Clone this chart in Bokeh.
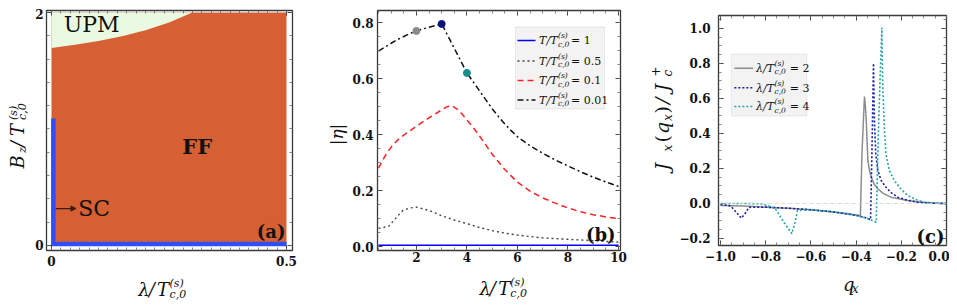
import math
from bokeh.plotting import figure
from bokeh.models import (Label, Arrow, NormalHead, FixedTicker, LinearAxis,
                          Span, Range1d, BoxAnnotation, Spacer)
from bokeh.layouts import row, column
from bokeh.embed import file_html
from bokeh.resources import INLINE

# ======================= DATA =======================
# ---- panel (a): phase diagram, lambda/Tc0 vs Bz/Tc0 ----
a_lambda_limits = [0.0, 0.5]
a_bz_limits = [0.0, 2.0]
upm_boundary_lambda = [0.0, 0.05, 0.10, 0.15, 0.20, 0.25, 0.30]
upm_boundary_bz = [1.696, 1.723, 1.755, 1.795, 1.848, 1.915, 2.0]
sc_vertical_lambda = [0.004, 0.004]
sc_vertical_bz = [0.0, 1.09]
sc_horizontal_lambda = [0.0, 0.5]
sc_horizontal_bz = [0.012, 0.012]
sc_arrow_lambda = [0.009, 0.052]
sc_arrow_bz = [0.317, 0.317]
region_names = ["UPM", "FF", "SC"]
region_lambda = [0.026, 0.31, 0.057]
region_bz = [1.893, 0.851, 0.317]
a_xtick_values = [0, 0.5]
a_xtick_labels = ["0", "0.5"]
a_ytick_values = [0, 2]
a_ytick_labels = ["0", "2"]

# ---- panel (b): |eta| vs lambda/Tc0 ----
lam_T1 = [0.5, 10.0]
eta_T1 = [0.005, 0.005]
lam_T05 = [0.5, 0.9, 1.2, 1.45, 1.7, 2.0, 2.5, 3.0, 3.5, 4.0, 4.5, 5.0, 5.5,
           6.0, 7.0, 8.0, 9.0, 10.0]
eta_T05 = [0.065, 0.072, 0.103, 0.128, 0.137, 0.141, 0.129, 0.110, 0.095,
           0.082, 0.068, 0.057, 0.048, 0.041, 0.031, 0.026, 0.021, 0.016]
lam_T01 = [0.5, 0.75, 1.0, 1.25, 1.5, 1.75, 2.0, 2.25, 2.5, 2.75, 3.0, 3.2,
           3.4, 3.6, 3.8, 4.0, 4.25, 4.5, 5.0, 5.5, 6.0, 6.5, 7.0, 7.5, 8.0,
           8.5, 9.0, 9.5, 10.0]
eta_T01 = [0.280, 0.322, 0.355, 0.380, 0.398, 0.414, 0.430, 0.445, 0.460,
           0.474, 0.488, 0.499, 0.503, 0.492, 0.474, 0.452, 0.425, 0.395,
           0.330, 0.275, 0.230, 0.198, 0.174, 0.155, 0.138, 0.124, 0.114,
           0.106, 0.100]
lam_T001 = [0.5, 0.75, 1.0, 1.25, 1.5, 1.75, 2.0, 2.25, 2.5, 2.75, 3.0, 3.25,
            3.5, 3.75, 4.0, 4.25, 4.5, 4.75, 5.0, 5.25, 5.5, 5.75, 6.0, 6.5,
            7.0, 7.5, 8.0, 8.5, 9.0, 9.5, 10.0]
eta_T001 = [0.698, 0.712, 0.726, 0.739, 0.750, 0.761, 0.770, 0.777, 0.783,
            0.789, 0.795, 0.752, 0.708, 0.664, 0.620, 0.588, 0.556, 0.524,
            0.492, 0.464, 0.438, 0.414, 0.392, 0.360, 0.333, 0.309, 0.288,
            0.267, 0.248, 0.231, 0.215]
marker_lam = [2.0, 3.0, 4.0]
marker_eta = [0.770, 0.795, 0.620]
b_legend_values = ["1", "0.5", "0.1", "0.01"]
b_xtick_values = [2, 4, 6, 8, 10]
b_xtick_labels = ["2", "4", "6", "8", "10"]
b_ytick_values = [0.0, 0.2, 0.4, 0.6, 0.8]
b_ytick_labels = ["0.0", "0.2", "0.4", "0.6", "0.8"]

# ---- panel (c): Jx(qx)/Jc+ vs qx ----
qx_l2 = [-1.0, -0.9, -0.8, -0.7, -0.6, -0.5, -0.45, -0.4, -0.381, -0.374,
         -0.363, -0.359, -0.355, -0.348, -0.34, -0.333, -0.32, -0.304, -0.28,
         -0.246, -0.2, -0.172, -0.13, -0.1, -0.05, 0.0]
j_l2 = [-0.011, -0.015, -0.021, -0.027, -0.036, -0.048, -0.056, -0.066,
        -0.070, 0.284, 0.611, 0.560, 0.474, 0.246, 0.185, 0.150, 0.110, 0.084,
        0.058, 0.036, 0.024, 0.017, 0.010, 0.006, 0.002, 0.0]
qx_l3 = [-1.0, -0.97, -0.955, -0.93, -0.908, -0.89, -0.874, -0.8, -0.7, -0.6,
         -0.5, -0.4, -0.36, -0.336, -0.330, -0.323, -0.319, -0.313, -0.304,
         -0.289, -0.268, -0.245, -0.216, -0.17, -0.129, -0.08, -0.04, 0.0]
j_l3 = [-0.006, -0.010, -0.014, -0.050, -0.084, -0.055, -0.022, -0.021,
        -0.027, -0.036, -0.048, -0.068, -0.080, -0.093, 0.284, 0.800, 0.474,
        0.284, 0.189, 0.131, 0.093, 0.062, 0.036, 0.018, 0.008, 0.003, 0.001,
        0.0]
qx_l4 = [-1.0, -0.9, -0.82, -0.79, -0.757, -0.72, -0.684, -0.67, -0.659, -0.6,
         -0.5, -0.4, -0.35, -0.311, -0.30, -0.286, -0.282, -0.275, -0.268,
         -0.253, -0.231, -0.2, -0.172, -0.13, -0.1, -0.05, 0.0]
j_l4 = [0.0, 0.0, -0.002, -0.012, -0.030, -0.107, -0.173, -0.107, -0.040,
        -0.036, -0.048, -0.068, -0.085, -0.107, 0.474, 1.004, 0.665, 0.436,
        0.284, 0.189, 0.131, 0.080, 0.046, 0.020, 0.008, 0.002, 0.0]
c_legend_values = ["2", "3", "4"]
c_xtick_values = [-1.0, -0.8, -0.6, -0.4, -0.2, 0.0]
c_xtick_labels = ["\u22121.0", "\u22120.8", "\u22120.6", "\u22120.4", "\u22120.2", "0.0"]
c_ytick_values = [-0.2, 0.0, 0.2, 0.4, 0.6, 0.8, 1.0]
c_ytick_labels = ["\u22120.2", "0.0", "0.2", "0.4", "0.6", "0.8", "1.0"]

# ======================= STYLE / LAYOUT =======================
SERIF = "DejaVu Serif"
TXT = "#111111"
ORANGE = "#d65f33"
PALE_GREEN = "#eafae2"
SC_BLUE = "#2f4ff2"
FRAME = "#3a3a3a"
ANG = math.pi / 2
TOP = 8          # page y of content top (reference pixel coords)
BOTTOM = 300     # page y of content bottom
MID = 0.30       # baseline -> middle shift, in em

GEOM_A = dict(l=46, r=292, t=10, b=250, xr=(-0.0106, 0.5128), yr=(-0.043, 2.017))
GEOM_B = dict(l=377, r=620, t=10, b=250, xr=(0.46, 10.08), yr=(-0.014, 0.843))
GEOM_C = dict(l=716, r=946, t=15, b=245, xr=(-1.0088, 0.0), yr=(-0.24, 1.074))


def mapper(g):
    def fx(px):
        return g["xr"][0] + (px - g["l"]) / (g["r"] - g["l"]) * (g["xr"][1] - g["xr"][0])

    def fy(py):
        return g["yr"][1] - (py - g["t"]) / (g["b"] - g["t"]) * (g["yr"][1] - g["yr"][0])
    return fx, fy


def canvas(left, right, top, bottom):
    """blank figure used as a text canvas; data units == pixels."""
    w, h = right - left, bottom - top
    p = figure(width=w, height=h, x_range=Range1d(0, w), y_range=Range1d(0, h),
               output_backend="svg", toolbar_location=None,
               x_axis_type=None, y_axis_type=None,
               min_border_left=0, min_border_right=0,
               min_border_top=0, min_border_bottom=0)
    p.grid.visible = False
    p.outline_line_color = None
    p.background_fill_color = "white"
    p.border_fill_color = "white"

    def fx(px):
        return px - left

    def fy(py):
        return bottom - py
    return p, (fx, fy)


def make_panel(g, fig_left, fig_right, split):
    p = figure(width=fig_right - fig_left, height=split - TOP,
               x_range=Range1d(*g["xr"]), y_range=Range1d(*g["yr"]),
               output_backend="svg", toolbar_location=None,
               min_border_left=g["l"] - fig_left,
               min_border_right=fig_right - g["r"],
               min_border_top=g["t"] - TOP,
               min_border_bottom=split - g["b"])
    p.xgrid.visible = False
    p.ygrid.visible = False
    p.outline_line_color = FRAME
    p.outline_line_width = 1.3
    p.background_fill_color = "white"
    p.border_fill_color = "white"
    return p


def style_axis(ax, ticks, minor, labels=None, standoff=4):
    ax.ticker = FixedTicker(ticks=ticks, minor_ticks=minor)
    ax.axis_line_color = None
    ax.major_tick_in = 5
    ax.major_tick_out = 0
    ax.minor_tick_in = 3
    ax.minor_tick_out = 0
    ax.major_tick_line_color = "#404040"
    ax.minor_tick_line_color = "#666666"
    ax.minor_tick_line_width = 0.8
    if labels is None:
        ax.major_label_text_font_size = "1px"
        ax.major_label_text_color = None
        ax.major_label_standoff = 0
    else:
        ax.major_label_overrides = dict(zip(ticks, labels))
        ax.major_label_text_font = SERIF
        ax.major_label_text_font_style = "bold"
        ax.major_label_text_font_size = "12px"
        ax.major_label_text_color = TXT
        ax.major_label_standoff = standoff


def frame_axes(p, xt, xminor, xl, yt, yminor, yl, xs, ys):
    style_axis(p.xaxis[0], xt, xminor, xl, xs)
    style_axis(p.yaxis[0], yt, yminor, yl, ys)
    top = LinearAxis()
    right = LinearAxis()
    p.add_layout(top, "above")
    p.add_layout(right, "right")
    style_axis(top, xt, xminor)
    style_axis(right, yt, yminor)


def put(p, m, px, py, text, size, style="italic", align="left",
        angle=0.0, color=TXT, centred=False):
    """(px, py) is the text baseline point in page pixels unless centred."""
    fx, fy = m
    if not centred:
        if angle == 0.0:
            py = py - MID * size
        else:
            px = px - MID * size
    p.add_layout(Label(x=fx(px), y=fy(py), text=text, text_font=SERIF,
                       text_font_size=f"{size}px", text_font_style=style,
                       text_align=align, text_baseline="middle", angle=angle,
                       text_color=color))


def seg(p, m, x0, x1, y, color, width, dash="solid"):
    fx, fy = m
    p.add_layout(Arrow(x_start=fx(x0), y_start=fy(y), x_end=fx(x1), y_end=fy(y),
                       start=None, end=None, line_color=color,
                       line_width=width, line_dash=dash))


def minor_range(a, b, step):
    n = int(round((b - a) / step))
    return [round(a + i * step, 4) for i in range(n + 1)]


# ======================= PANEL (a) =======================
SPLIT_A = 276
mA = mapper(GEOM_A)
pA = make_panel(GEOM_A, 30, 325, SPLIT_A)
frame_axes(pA, a_xtick_values, minor_range(0, 0.5, 0.02), a_xtick_labels,
           a_ytick_values, minor_range(0, 2, 0.2), a_ytick_labels, 5, 3)

pA.quad(left=[a_lambda_limits[0]], right=[a_lambda_limits[1]],
        bottom=[a_bz_limits[0]], top=[a_bz_limits[1]],
        fill_color=ORANGE, line_color=None)
pA.varea(x=upm_boundary_lambda, y1=upm_boundary_bz,
         y2=[a_bz_limits[1]] * len(upm_boundary_lambda),
         fill_color=PALE_GREEN)
pA.line(sc_vertical_lambda, sc_vertical_bz, line_color=SC_BLUE, line_width=4.5)
pA.line(sc_horizontal_lambda, sc_horizontal_bz, line_color=SC_BLUE, line_width=4.5)
pA.add_layout(Arrow(x_start=sc_arrow_lambda[0], y_start=sc_arrow_bz[0],
                    x_end=sc_arrow_lambda[1], y_end=sc_arrow_bz[1],
                    line_color="#3a1a10", line_width=1.2,
                    end=NormalHead(size=5, fill_color="#3a1a10", line_color="#3a1a10")))
region_sizes = ["22px", "21px", "22px"]
region_styles = ["normal", "bold", "normal"]
region_align = ["left", "center", "left"]
for name, lx, ly, sz, st, al in zip(region_names, region_lambda, region_bz,
                                    region_sizes, region_styles, region_align):
    pA.add_layout(Label(x=lx, y=ly, text=name, text_font=SERIF, text_font_size=sz,
                        text_font_style=st, text_align=al, text_baseline="middle",
                        text_color=TXT))
put(pA, mA, 285, 231, "(a)", 18, "bold", "right", centred=True)

# x label strip  λ/T_{c,0}^{(s)}
xlA, cxA = canvas(30, 325, SPLIT_A, BOTTOM)
put(xlA, cxA, 140, 294, "\u03bb", 18)
put(xlA, cxA, 152.5, 294, "/", 18)
put(xlA, cxA, 162.5, 294, "T", 18)
put(xlA, cxA, 177.5, 297, "c,0", 11)
put(xlA, cxA, 177.5, 286, "(s)", 11)
# y label strip  B_z/T_{c,0}^{(s)}
ylA, cyA = canvas(8, 30, TOP, BOTTOM)
put(ylA, cyA, 22.5, 168, "B", 18, angle=ANG)
put(ylA, cyA, 25.5, 152.5, "z", 11, angle=ANG)
put(ylA, cyA, 22.5, 146.5, "/", 18, angle=ANG)
put(ylA, cyA, 22.5, 135.5, "T", 18, angle=ANG)
put(ylA, cyA, 25.5, 119.5, "c,0", 11, angle=ANG)
put(ylA, cyA, 16.5, 119.5, "(s)", 11, angle=ANG)

# ======================= PANEL (b) =======================
SPLIT_B = 276
mB = mapper(GEOM_B)
pB = make_panel(GEOM_B, 348, 640, SPLIT_B)
frame_axes(pB, b_xtick_values, minor_range(0.5, 10, 0.5), b_xtick_labels,
           b_ytick_values, minor_range(0, 0.8, 0.05), b_ytick_labels, 1, 4)

b_styles = [("#0000ff", "solid", 1.5), ("#444444", "2 3", 1.4),
            ("#ff2222", "6 4", 1.5), ("#111111", "6 3 2 3", 1.5)]
for (xs, ys), (col, dash, w) in zip([(lam_T1, eta_T1), (lam_T05, eta_T05),
                                     (lam_T01, eta_T01), (lam_T001, eta_T001)],
                                    b_styles):
    pB.line(xs, ys, line_color=col, line_dash=dash, line_width=w)
marker_colors = ["#8a8a8a", "#10107a", "#178c8c"]
pB.scatter(marker_lam, marker_eta, size=7, fill_color=marker_colors,
           line_color=marker_colors)

fxB, fyB = mB
pB.add_layout(BoxAnnotation(left=fxB(515), right=fxB(604), top=fyB(26.5),
                            bottom=fyB(108.5), fill_color="#f3f3f3", fill_alpha=1,
                            line_color="#bcbcbc", line_width=1))
b_rows = [40, 60.5, 80, 99.5]
for yrow, (col, dash, w), v in zip(b_rows, b_styles, b_legend_values):
    seg(pB, mB, 517, 535, yrow, col, w, dash)
    put(pB, mB, 557, yrow + 3.5, "T/T", 11, align="right")
    put(pB, mB, 557.5, yrow + 6, "c,0", 7.5)
    put(pB, mB, 557.5, yrow - 2.5, "(s)", 7.5)
    put(pB, mB, 570.5, yrow + 3.5, "= " + v, 11, style="normal")

put(pB, mB, 615, 234, "(b)", 18, "bold", "right", centred=True)
xlB, cxB = canvas(348, 640, SPLIT_B, BOTTOM)
put(xlB, cxB, 470.5, 293, "\u03bb", 18)
put(xlB, cxB, 483, 293, "/", 18)
put(xlB, cxB, 493, 293, "T", 18)
put(xlB, cxB, 507.5, 296.5, "c,0", 11)
put(xlB, cxB, 507.5, 285, "(s)", 11)
ylB, cyB = canvas(325, 348, TOP, BOTTOM)
put(ylB, cyB, 336.5, 134, "|\u03b7|", 17, align="center", angle=ANG, centred=True)

# ======================= PANEL (c) =======================
SPLIT_C = 268
mC = mapper(GEOM_C)
pC = make_panel(GEOM_C, 676, 949, SPLIT_C)
frame_axes(pC, c_xtick_values, minor_range(-1.0, 0.0, 0.05), c_xtick_labels,
           c_ytick_values, minor_range(-0.2, 1.05, 0.05), c_ytick_labels, 5, 8)
pC.add_layout(Span(location=0, dimension="width", line_color="#cfcfcf",
                   line_dash="4 3", line_width=0.8))
c_styles = [("#8c8c8c", "solid", 1.5), ("#1d1da8", "2 2", 1.6),
            ("#26a3a3", "2 2", 1.6)]
for (xs, ys), (col, dash, w) in zip([(qx_l2, j_l2), (qx_l3, j_l3), (qx_l4, j_l4)],
                                    c_styles):
    pC.line(xs, ys, line_color=col, line_dash=dash, line_width=w)

fxC, fyC = mC
pC.add_layout(BoxAnnotation(left=fxC(729), right=fxC(805), top=fyC(53.5),
                            bottom=fyC(115.5), fill_color="#f3f3f3", fill_alpha=1,
                            line_color="#bcbcbc", line_width=1))
c_rows = [67.7, 87.3, 106]
for yrow, (col, dash, w), v in zip(c_rows, c_styles, c_legend_values):
    seg(pC, mC, 732, 751, yrow, col, w, dash)
    put(pC, mC, 772, yrow + 3.5, "\u03bb/T", 11, align="right")
    put(pC, mC, 772.5, yrow + 6, "c,0", 7.5)
    put(pC, mC, 772.5, yrow - 2.5, "(s)", 7.5)
    put(pC, mC, 788, yrow + 3.5, "= " + v, 11, style="normal")

put(pC, mC, 944, 236, "(c)", 18, "bold", "right", centred=True)
xlC, cxC = canvas(676, 949, SPLIT_C, BOTTOM)
put(xlC, cxC, 825, 289, "q", 18)
put(xlC, cxC, 835.5, 292.5, "x", 12)
ylC, cyC = canvas(640, 676, TOP, BOTTOM)
put(ylC, cyC, 667, 170, "J", 19, angle=ANG)
put(ylC, cyC, 671, 151, "x", 12, angle=ANG)
put(ylC, cyC, 667, 142, "(", 19, style="normal", angle=ANG)
put(ylC, cyC, 667, 133.5, "q", 19, angle=ANG)
put(ylC, cyC, 671, 120.5, "x", 12, angle=ANG)
put(ylC, cyC, 667, 113, ")", 19, style="normal", angle=ANG)
put(ylC, cyC, 667, 103.5, "/", 19, angle=ANG)
put(ylC, cyC, 667, 91, "J", 19, angle=ANG)
put(ylC, cyC, 671, 76, "c", 12, angle=ANG)
put(ylC, cyC, 658, 76, "+", 12, style="normal", angle=ANG)

panels = row(
    ylA, column(pA, xlA),
    ylB, column(pB, xlB),
    ylC, column(pC, xlC),
)
layout = column(Spacer(width=949, height=8), row(Spacer(width=8, height=292), panels))
open("out.html", "w").write(file_html(layout, INLINE))
